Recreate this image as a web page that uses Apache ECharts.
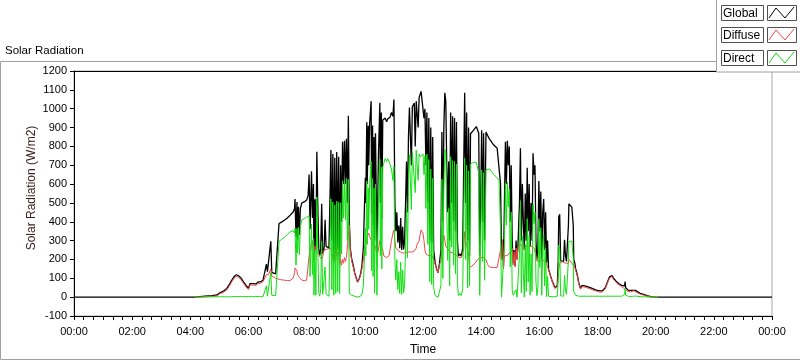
<!DOCTYPE html>
<html><head><meta charset="utf-8">
<script src="https://cdn.jsdelivr.net/npm/echarts@6/dist/echarts.min.js"></script>
<style>html,body{margin:0;padding:0;background:#fff}#c{width:800px;height:361px}</style>
</head><body><div id="c"></div>
<script>
const times = [
'00:00',
'04:10','04:15','04:30','04:45','04:55',
'05:00','05:05','05:10','05:15','05:20','05:25','05:30','05:35','05:40','05:45','05:50','05:55',
'06:00','06:03','06:06','06:10','06:15','06:20','06:25','06:30','06:34','06:37','06:39','06:42','06:46','06:48','06:52','06:56','06:59',
'07:03','07:08','07:14','07:20','07:26','07:32','07:35','07:36','07:38','07:40','07:41','07:43','07:45','07:47','07:50','07:55',
'08:00','08:03','08:05','08:07','08:10','08:12','08:14','08:15','08:17','08:19','08:21','08:23','08:25','08:27','08:29','08:31','08:33','08:36','08:38','08:40','08:43','08:46','08:50','08:52','08:54','08:56','08:58',
'09:00','09:02','09:04','09:06','09:08','09:10','09:12','09:14','09:16','09:18','09:20','09:22','09:24','09:26','09:28','09:30','09:33','09:36','09:39','09:42','09:45','09:48','09:51','09:54','09:57','09:59',
'10:01','10:02','10:04','10:05','10:07','10:08','10:10','10:13','10:14','10:16','10:17','10:19','10:20','10:22','10:25','10:28','10:31','10:32','10:34','10:35','10:37','10:39','10:42','10:45','10:47','10:50','10:52','10:55','10:58',
'11:00','11:02','11:04','11:06','11:08','11:10','11:12','11:14','11:16','11:18','11:20','11:22','11:24','11:26','11:28','11:30','11:32','11:34','11:36','11:38','11:40','11:42','11:44','11:46','11:48','11:50','11:52','11:54','11:56','11:58',
'12:00','12:02','12:04','12:06','12:08','12:10','12:12','12:14','12:16','12:18','12:20','12:22','12:25','12:28','12:31','12:34','12:37','12:39','12:41','12:43','12:45','12:47','12:49','12:51','12:53','12:55','12:57','12:59',
'13:01','13:03','13:05','13:07','13:09','13:11','13:13','13:16','13:19','13:22','13:24','13:26','13:28','13:30','13:32','13:34','13:36','13:38','13:41','13:44','13:47','13:50','13:53','13:55','13:57','13:59',
'14:01','14:03','14:05','14:07','14:10','14:13','14:17','14:21','14:25','14:29','14:33','14:37','14:40','14:42','14:44','14:46','14:48','14:50','14:52','14:54','14:56','14:58',
'15:00','15:02','15:04','15:06','15:08','15:10','15:12','15:14','15:16','15:19','15:21','15:23','15:25','15:27','15:29','15:31','15:33','15:35','15:37','15:39','15:41','15:43','15:45','15:47','15:49','15:51','15:53','15:55','15:57','15:59',
'16:01','16:03','16:05','16:07','16:09','16:11','16:13','16:15','16:17','16:19','16:21','16:23','16:26','16:29','16:32','16:35','16:37','16:39','16:40','16:42','16:44','16:48','16:50','16:52','16:54','16:56','16:58',
'17:00','17:01','17:04','17:07','17:08','17:10','17:11','17:13','17:15','17:17','17:19','17:21','17:23','17:25','17:28','17:32','17:36','17:40','17:45','17:50','17:55',
'18:00','18:05','18:10','18:13','18:16','18:19','18:22','18:25','18:28','18:30','18:33','18:36','18:40','18:45','18:50','18:53','18:56','18:57','18:58',
'19:00','19:04','19:08','19:12','19:15','19:18','19:22','19:28','19:35','19:42','19:50','19:56',
'20:05','24:00'
];
const globalVals = [
0,
0,2,5,8,12,
22,28,35,45,65,88,108,119,112,100,80,62,
48,72,80,72,70,80,82,90,100,175,135,130,296,132,128,124,123,
391,398,408,420,435,452,470,521,320,505,305,480,330,470,500,505,
515,540,651,360,668,420,600,200,520,250,772,480,253,220,260,495,230,260,410,270,280,260,781,300,760,190,740,
220,770,250,745,180,700,400,824,600,830,600,840,500,963,400,260,200,170,130,105,80,95,120,166,260,460,
634,500,928,600,910,700,925,1040,440,911,380,850,300,870,230,750,1032,500,980,420,940,930,950,930,945,940,955,980,960,
1049,495,350,450,290,380,260,420,250,374,253,300,500,720,450,850,1006,997,700,1010,1000,1030,800,1040,1050,900,1060,1075,1092,1085,
1100,950,1000,700,980,500,950,300,900,287,850,250,183,150,130,180,250,876,400,900,1084,1040,700,450,720,300,980,500,
960,400,950,350,930,300,218,230,218,260,700,1084,500,980,300,900,218,867,876,885,895,905,911,870,220,500,
885,400,870,300,876,859,840,825,810,800,790,781,600,200,305,160,500,824,600,830,700,800,
400,700,300,180,250,166,300,200,280,500,790,300,600,400,250,550,300,686,350,600,270,500,300,763,650,700,300,200,250,616,
350,560,200,450,521,250,450,183,300,150,160,114,90,70,50,45,60,200,426,440,192,192,190,305,218,190,180,
380,495,487,478,470,380,200,184,150,132,110,80,62,48,62,62,58,54,50,45,40,
36,33,33,36,50,70,90,108,118,115,100,90,80,70,62,55,60,83,50,
40,36,34,36,40,36,30,20,15,8,3,0,
0,0
];
const diffuseVals = [
null,
0,0,2,4,6,
16,22,29,38,57,80,100,111,104,92,72,54,
40,64,72,64,62,72,74,82,92,120,128,122,150,112,106,100,98,
95,92,90,88,88,100,130,155,150,140,120,110,105,95,90,88,
90,95,220,250,280,300,290,190,270,240,240,230,230,215,215,200,215,250,250,255,255,255,260,260,255,180,250,
200,260,220,240,160,200,170,200,180,210,190,210,200,330,380,250,190,160,125,100,80,92,115,150,200,260,
270,280,300,320,330,340,320,320,300,280,270,270,280,270,220,250,300,280,290,270,250,220,215,210,210,220,250,300,340,
356,300,260,250,250,245,240,235,235,230,230,235,240,240,240,240,250,240,235,240,240,250,245,260,280,280,300,330,356,350,
340,300,250,230,220,220,220,218,220,220,220,200,175,150,130,175,190,250,300,330,300,270,261,255,250,240,235,235,
235,230,230,225,225,220,210,210,210,215,250,348,300,280,250,230,157,160,165,170,180,190,200,210,210,210,
210,210,210,210,200,175,160,157,157,157,157,160,250,200,305,150,220,220,218,220,220,225,
240,250,260,170,240,160,260,200,270,278,278,278,278,270,250,270,270,270,270,270,260,270,270,270,260,250,220,192,200,200,
192,192,190,195,190,190,190,180,190,145,150,110,86,66,46,42,55,110,150,180,185,188,185,190,180,175,170,
180,200,190,180,180,170,170,160,140,125,105,74,56,42,56,56,52,48,44,39,34,
30,27,27,30,44,64,84,102,112,109,94,84,74,64,56,49,45,40,40,
34,30,28,30,34,28,24,16,11,5,1,0,
0,null
];
const directVals = [
null,
0,0,1,2,2,
2,2,2,2,2,2,3,3,3,3,3,3,
3,3,3,3,3,3,3,3,4,60,5,8,130,10,10,8,8,
296,306,318,332,347,352,340,366,170,365,235,370,225,375,410,417,
425,425,431,110,388,120,310,10,250,10,532,250,20,5,45,295,15,10,160,15,25,5,521,40,505,10,490,
20,510,30,505,20,500,230,616,420,620,410,630,300,625,20,10,10,10,5,5,0,3,5,16,60,200,
364,220,616,280,580,360,605,720,140,630,110,580,20,600,10,500,732,220,690,150,690,710,735,720,735,720,705,680,620,
693,195,90,200,40,135,20,185,15,144,23,65,260,480,210,610,756,757,465,770,760,780,555,780,770,620,760,745,736,735,
760,650,750,470,760,280,730,82,680,67,630,50,8,0,0,5,60,626,100,570,784,770,439,195,470,60,745,265,
725,170,720,125,705,80,8,20,8,45,450,736,200,700,50,670,61,707,711,715,715,715,711,660,10,290,
675,190,660,90,676,684,680,668,653,643,633,621,350,0,0,10,280,604,382,610,480,575,
160,450,40,10,10,6,40,0,10,222,512,22,322,130,0,280,30,416,80,330,10,230,30,493,390,450,80,8,50,416,
158,368,10,255,331,60,260,3,110,5,10,4,2,2,2,1,5,90,276,260,7,4,5,115,38,15,10,
200,295,297,298,290,210,30,24,10,7,5,5,5,4,5,5,5,5,5,5,5,
5,5,5,5,5,5,5,5,5,5,5,5,5,5,5,5,15,43,10,
5,4,4,4,4,6,4,3,2,1,0,0,
0,null
];
const timeLabels = ['00:00','02:00','04:00','06:00','08:00','10:00','12:00','14:00','16:00','18:00','20:00','22:00','00:00'];
const seriesNames = ['Global','Diffuse','Direct'];
const seriesColors = ['#000000','#f24848','#12e012'];

function toMin(s){const p=s.split(':');return (+p[0])*60+(+p[1]);}
const mins = times.map(toMin);
const pair = arr => mins.map((m,i)=>[m, arr[i]]);
const dataMap = {Global: pair(globalVals), Diffuse: pair(diffuseVals), Direct: pair(directVals)};

const chart = echarts.init(document.getElementById('c'), null, {renderer:'canvas'});
const FONT = 'Liberation Sans, Arial, sans-serif';

const legendG = [];
legendG.push({type:'rect', shape:{x:716.5,y:-1,width:90,height:73}, style:{fill:'#ffffff',stroke:'#a0a0a0',lineWidth:1}, z:100});
seriesNames.forEach((n,i)=>{
  const y0 = Math.round(4.5 + i*22.7);
  legendG.push({type:'rect', shape:{x:721.5,y:y0+0.5,width:42,height:15}, style:{fill:'#ffffff',stroke:'#505050',lineWidth:1}, z:101});
  legendG.push({type:'text', x:723, y:y0+8.5, style:{text:n, fill:'#000', font:'12px '+FONT, verticalAlign:'middle', align:'left'}, z:102});
  legendG.push({type:'rect', shape:{x:767.5,y:y0+0.5,width:29,height:15}, style:{fill:'#ffffff',stroke:'#505050',lineWidth:1}, z:101});
  const b = y0+13, t = y0+3;
  legendG.push({type:'polyline', shape:{points:[[769,b],[776,t],[785,b],[794,t-1]]}, style:{stroke:seriesColors[i], fill:null, lineWidth:1}, z:102});
});

const option = {
  animation:false,
  backgroundColor:'#ffffff',
  title:{text:'Solar Radiation', left:5, top:45, padding:0, textStyle:{fontSize:11.5, fontWeight:'normal', color:'#000', fontFamily:FONT}},
  grid:{left:74, top:71, width:698, height:250, show:true, borderColor:'#a8a8a8', borderWidth:1, backgroundColor:'#ffffff'},
  xAxis:[{
    type:'value', min:0, max:1440, interval:120,
    name:'Time', nameLocation:'middle', nameGap:28,
    nameTextStyle:{fontSize:12, color:'#000', fontFamily:FONT},
    axisLine:{show:true, onZero:false, lineStyle:{color:'#000', width:1}},
    axisTick:{show:true, length:4, lineStyle:{color:'#000'}},
    minorTick:{show:true, splitNumber:6, length:4, lineStyle:{color:'#000'}},
    splitLine:{show:false},
    axisLabel:{margin:10, fontSize:11, color:'#000', fontFamily:FONT, formatter:v=>timeLabels[Math.round(v/120)]}
  },{
    type:'value', min:0, max:1440, position:'top',
    axisLine:{show:true, onZero:false, lineStyle:{color:'#000', width:1}},
    axisTick:{show:false}, axisLabel:{show:false}, splitLine:{show:false}
  }],
  yAxis:{
    type:'value', min:-100, max:1200, interval:100,
    axisLine:{show:true, onZero:false, lineStyle:{color:'#000', width:1}},
    axisTick:{show:true, length:4, lineStyle:{color:'#000'}},
    splitLine:{show:false},
    axisLabel:{margin:7, fontSize:11, color:'#000', fontFamily:FONT, formatter:v=>String(v)}
  },
  graphic:[
    {type:'rect', shape:{x:0.5,y:61.5,width:800,height:298}, style:{fill:null, stroke:'#a0a0a0', lineWidth:1}, z:-1, silent:true},
    {type:'text', x:32, y:188, rotation:Math.PI/2, style:{text:'Solar Radiation (W/m2)', fill:'#3a2020', font:'12px '+FONT, align:'center', verticalAlign:'middle'}, z:50},
    ...legendG
  ],
  series:[
    {name:'Global', type:'line', data:dataMap.Global, showSymbol:false, lineStyle:{color:seriesColors[0], width:1.3}, itemStyle:{color:seriesColors[0]}, connectNulls:false},
    {name:'Diffuse', type:'line', data:dataMap.Diffuse, showSymbol:false, lineStyle:{color:seriesColors[1], width:1}, itemStyle:{color:seriesColors[1]}, connectNulls:false},
    {name:'Direct', type:'line', data:dataMap.Direct, showSymbol:false, lineStyle:{color:seriesColors[2], width:1}, itemStyle:{color:seriesColors[2]}, connectNulls:false}
  ]
};
chart.setOption(option);
</script>
</body></html>
